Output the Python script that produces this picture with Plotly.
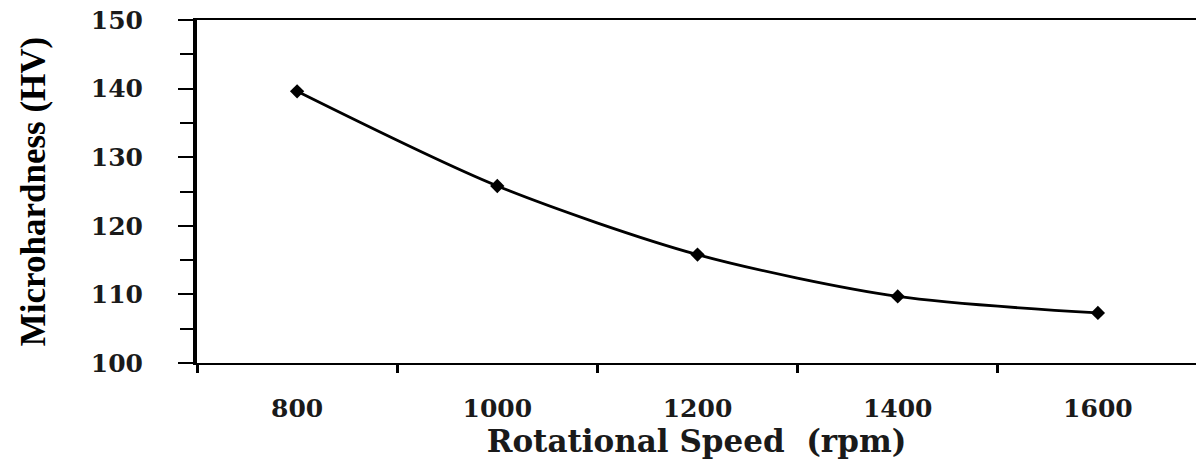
import plotly.graph_objects as go

speeds = [800, 1000, 1200, 1400, 1600]
hardness = [139.6, 125.8, 115.8, 109.7, 107.3]
y_ticks = [100, 110, 120, 130, 140, 150]

fig = go.Figure()
fig.add_trace(go.Scatter(
    x=speeds, y=hardness, mode="lines+markers",
    line=dict(color="black", width=2.8, shape="spline", smoothing=0.8),
    marker=dict(symbol="diamond", size=11, color="black"),
    showlegend=False,
))

tick_font = dict(family="DejaVu Serif", size=25, color="#1a1a1a", weight="bold")

fig.update_layout(
    width=1196, height=461,
    margin=dict(l=197, r=0, t=20, b=98),
    paper_bgcolor="white", plot_bgcolor="white",
    xaxis=dict(
        range=[700, 1698], showgrid=False, zeroline=False,
        tickvals=speeds, ticktext=[str(s) for s in speeds],
        ticks="", tickfont=tick_font, ticklabelstandoff=22,
        showline=True, linecolor="black", linewidth=2, mirror=True,
        minor=dict(tick0=700, dtick=200, ticks="outside", ticklen=8,
                   tickwidth=3, tickcolor="black", showgrid=False),
        title=dict(text="Rotational Speed  (rpm)",
                   font=dict(family="DejaVu Serif", size=31, color="#1a1a1a", weight="bold"),
                   standoff=6),
    ),
    yaxis=dict(
        range=[100, 150], showgrid=False, zeroline=False,
        tickvals=y_ticks, ticks="outside", ticklen=15, tickwidth=2, tickcolor="black",
        tickfont=tick_font, ticklabelstandoff=30,
        showline=True, linecolor="black", linewidth=4,
        minor=dict(dtick=5, tick0=100, ticks="outside", ticklen=13, tickwidth=2,
                   tickcolor="black", showgrid=False),
        title=dict(text="Microhardness (HV)",
                   font=dict(family="Liberation Serif", size=35, color="black", weight="bold"),
                   standoff=36),
    ),
)

fig.write_html("out.html", config={"displayModeBar": False},
               post_script="document.body.style.margin='0';")
